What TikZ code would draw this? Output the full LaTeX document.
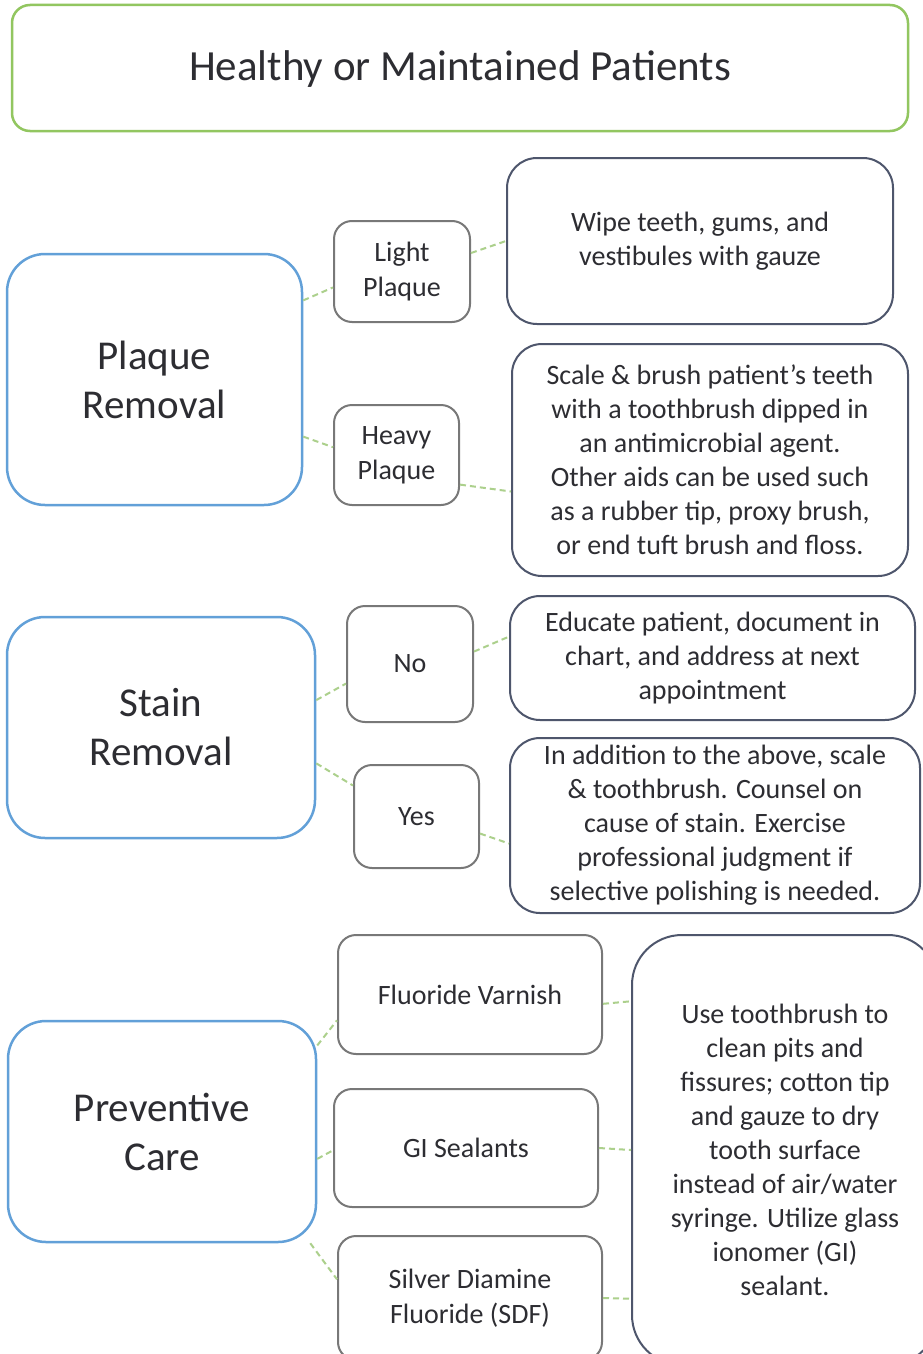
\documentclass[tikz,border=0pt]{standalone}
\usepackage{fontspec}
\setmainfont{Carlito}
\definecolor{hdgreen}{RGB}{146,198,96}
\definecolor{tpblue}{RGB}{98,160,216}
\definecolor{opgray}{RGB}{120,120,120}
\definecolor{ntslate}{RGB}{78,86,108}
\definecolor{lkgreen}{RGB}{172,208,140}
\definecolor{txgray}{RGB}{45,45,50}
\tikzset{
  headbox/.style={draw=hdgreen, line width=2.5pt, rounded corners=18pt, inner sep=0pt, text=txgray, font=\fontsize{43}{50}\selectfont},
  topicbox/.style={draw=tpblue, line width=2.5pt, rounded corners=38pt, inner sep=0pt, align=center, text=txgray, font=\fontsize{41}{49}\selectfont},
  optbox/.style={draw=opgray, line width=2pt, rounded corners=18pt, inner sep=0pt, align=center, text=txgray, font=\fontsize{28}{35}\selectfont},
  notebox/.style={draw=ntslate, line width=2pt, rounded corners=30pt, inner sep=0pt, align=center, text=txgray, font=\fontsize{28}{34}\selectfont},
  link/.style={draw=lkgreen, line width=2pt, dash pattern=on 6pt off 4pt}
}
\begin{document}
\begin{tikzpicture}[x=1pt,y=-1pt]
\useasboundingbox[fill=white] (0,0) rectangle (922,1354);
\node[headbox, minimum width=896pt, minimum height=126pt, text depth=4pt] (head) at (460,68) {Healthy or Maintained Patients};

\node[topicbox, minimum width=295pt, minimum height=251pt] (plaque) at (154.5,379.5) {Plaque\\Removal};
\node[optbox, minimum width=136pt, minimum height=101pt] (light) at (402,271.5) {Light\\Plaque};
\node[optbox, minimum width=125pt, minimum height=100pt] (heavy) at (396.5,455) {Heavy\\Plaque};
\node[notebox, minimum width=386pt, minimum height=166pt] (wipe) at (700,241) {Wipe teeth, gums, and\\vestibules with gauze};
\node[notebox, minimum width=396pt, minimum height=232pt] (scale) at (710,460) {Scale \& brush patient’s teeth\\with a toothbrush dipped in\\an antimicrobial agent.\\Other aids can be used such\\as a rubber tip, proxy brush,\\or end tuft brush and floss.};

\node[topicbox, minimum width=308pt, minimum height=221pt] (stain) at (161,727.5) {Stain\\Removal};
\node[optbox, minimum width=126pt, minimum height=116pt] (no) at (410,664) {No};
\node[optbox, minimum width=125pt, minimum height=103pt] (yes) at (416.5,816.5) {Yes};
\node[notebox, minimum width=405pt, minimum height=124pt] (educate) at (712.5,658) {Educate patient, document in\\chart, and address at next\\appointment};
\node[notebox, minimum width=410pt, minimum height=175pt] (addition) at (715,825.5) {In addition to the above, scale\\\& toothbrush. Counsel on\\cause of stain. Exercise\\professional judgment if\\selective polishing is needed.};

\node[topicbox, minimum width=308pt, minimum height=221pt] (prevent) at (162,1131.5) {Preventive\\Care};
\node[optbox, minimum width=264pt, minimum height=119pt] (varnish) at (470,994.5) {Fluoride Varnish};
\node[optbox, minimum width=264pt, minimum height=118pt] (sealant) at (466,1148) {GI Sealants};
\node[optbox, minimum width=264pt, minimum height=124pt] (sdf) at (470,1298) {Silver Diamine\\Fluoride (SDF)};
\node[notebox, rounded corners=50pt, minimum width=306pt, minimum height=430pt] (brush) at (785,1150) {Use toothbrush to\\clean pits and\\fissures; cotton tip\\and gauze to dry\\tooth surface\\instead of air/water\\syringe. Utilize glass\\ionomer (GI)\\sealant.};

\draw[link] (plaque.28) -- (light.193);
\draw[link] (plaque.-21) -- (heavy.173);
\draw[link] (light.15) -- (wipe.west);
\draw[link] (heavy.-25) -- (scale.189);
\draw[link] (stain.10) -- (no.197);
\draw[link] (stain.-13) -- (yes.154);
\draw[link] (no.11) -- (educate.174);
\draw[link] (yes.-15) -- (addition.185);
\draw[link] (prevent.29) -- (varnish.191);
\draw[link] (prevent.-10) -- (sealant.181);
\draw[link] (prevent.-37) -- (sdf.172);
\draw[link] (varnish.-4) -- (brush.136);
\draw[link] (sealant.east) -- (brush.west);
\draw[link] (sdf.east) -- (brush.224);
\end{tikzpicture}
\end{document}
